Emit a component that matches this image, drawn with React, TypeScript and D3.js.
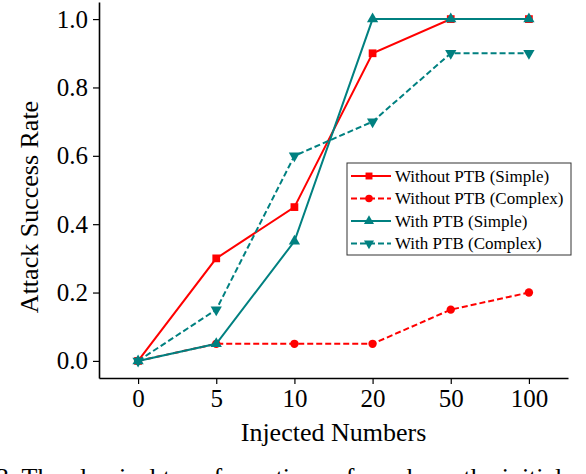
import React, { useEffect, useRef } from 'react';
import * as d3 from 'd3';

const categories = ['0', '5', '10', '20', '50', '100'];
const withoutSimple = [0, 0.3, 0.45, 0.9, 1.0, 1.0];
const withoutComplex = [0, 0.05, 0.05, 0.05, 0.15, 0.2];
const withSimple = [0, 0.05, 0.35, 1.0, 1.0, 1.0];
const withComplex = [0, 0.15, 0.6, 0.7, 0.9, 0.9];
const yTicks = [0, 0.2, 0.4, 0.6, 0.8, 1.0];

const series = [
  { label: 'Without PTB (Simple)', values: withoutSimple, color: '#ff0000', dash: null, symbol: d3.symbolSquare, size: 60, rotate: 0 },
  { label: 'Without PTB (Complex)', values: withoutComplex, color: '#ff0000', dash: '6,3', symbol: d3.symbolCircle, size: 55, rotate: 0 },
  { label: 'With PTB (Simple)', values: withSimple, color: '#008080', dash: null, symbol: d3.symbolTriangle, size: 55, rotate: 0 },
  { label: 'With PTB (Complex)', values: withComplex, color: '#008080', dash: '6,3', symbol: d3.symbolTriangle, size: 55, rotate: 180 },
];

const FONT = '"Liberation Serif", "Times New Roman", serif';

export default function App() {
  const svgRef = useRef<SVGSVGElement>(null);
  const width = 586;
  const height = 474;

  useEffect(() => {
    if (!svgRef.current) return;
    const svg = d3.select(svgRef.current);
    svg.selectAll('*').remove();

    const left = 99, right = 568, top = 2, bottom = 378;

    const x = d3.scalePoint<string>().domain(categories).range([left, right]).padding(0.5);
    const y = d3.scaleLinear().domain([-0.05, 1.05]).range([bottom, top]);

    // Axes
    const xAxis = svg.append('g')
      .attr('transform', `translate(0,${bottom})`)
      .call(d3.axisBottom(x).tickSize(6).tickSizeOuter(0).tickPadding(5));
    const yAxis = svg.append('g')
      .attr('transform', `translate(${left},0)`)
      .call(d3.axisLeft(y).tickValues(yTicks).tickFormat(d3.format('.1f')).tickSize(6).tickSizeOuter(0).tickPadding(5));

    [xAxis, yAxis].forEach(ax => {
      ax.attr('font-family', null).attr('font-size', null);
      ax.select('.domain').attr('stroke', '#000').attr('stroke-width', 1.6);
      ax.selectAll('.tick line').attr('stroke', '#000').attr('stroke-width', 1.2);
      ax.selectAll('.tick text')
        .attr('fill', '#000')
        .style('font-family', FONT)
        .style('font-size', '25px');
    });

    // Lines and markers
    series.forEach(s => {
      const line = d3.line<number>()
        .x((_, i) => x(categories[i]) as number)
        .y(d => y(d));
      svg.append('path')
        .datum(s.values)
        .attr('fill', 'none')
        .attr('stroke', s.color)
        .attr('stroke-width', 2)
        .attr('stroke-dasharray', s.dash)
        .attr('d', line);

      const sym = d3.symbol().type(s.symbol).size(s.size);
      svg.append('g')
        .selectAll('path')
        .data(s.values)
        .join('path')
        .attr('d', sym)
        .attr('fill', s.color)
        .attr('transform', (d, i) => `translate(${x(categories[i])},${y(d)}) rotate(${s.rotate})`);
    });

    // Axis labels
    svg.append('text')
      .attr('x', (left + right) / 2)
      .attr('y', 441)
      .attr('text-anchor', 'middle')
      .style('font-family', FONT)
      .style('font-size', '26px')
      .text('Injected Numbers');

    svg.append('text')
      .attr('transform', `translate(38,207) rotate(-90)`)
      .attr('text-anchor', 'middle')
      .style('font-family', FONT)
      .style('font-size', '26px')
      .text('Attack Success Rate');

    // Legend
    const legend = svg.append('g').attr('transform', 'translate(347,163)');
    legend.append('rect')
      .attr('width', 224)
      .attr('height', 92)
      .attr('fill', '#fff')
      .attr('stroke', '#333')
      .attr('stroke-width', 1);

    series.forEach((s, i) => {
      const row = legend.append('g').attr('transform', `translate(0,${13 + i * 22.5})`);
      row.append('line')
        .attr('x1', 4).attr('x2', 44)
        .attr('stroke', s.color)
        .attr('stroke-width', 2)
        .attr('stroke-dasharray', s.dash);
      row.append('path')
        .attr('d', d3.symbol().type(s.symbol).size(s.size * 0.8))
        .attr('fill', s.color)
        .attr('transform', `translate(22,0) rotate(${s.rotate})`);
      row.append('text')
        .attr('x', 48)
        .attr('y', 5.5)
        .attr('fill', '#000')
        .style('font-family', FONT)
        .style('font-size', '17px')
        .text(s.label);
    });

    // Caption, cut off by the bottom edge as in the source figure
    svg.append('text')
      .attr('x', -4)
      .attr('y', 486)
      .style('font-family', FONT)
      .style('font-size', '26px')
      .text('3. The classical transformations of numbers, the initial');
  }, []);

  return (
    <svg
      ref={svgRef}
      width={width}
      height={height}
      style={{ position: 'absolute', left: 0, top: 0, background: '#fff' }}
    />
  );
}
